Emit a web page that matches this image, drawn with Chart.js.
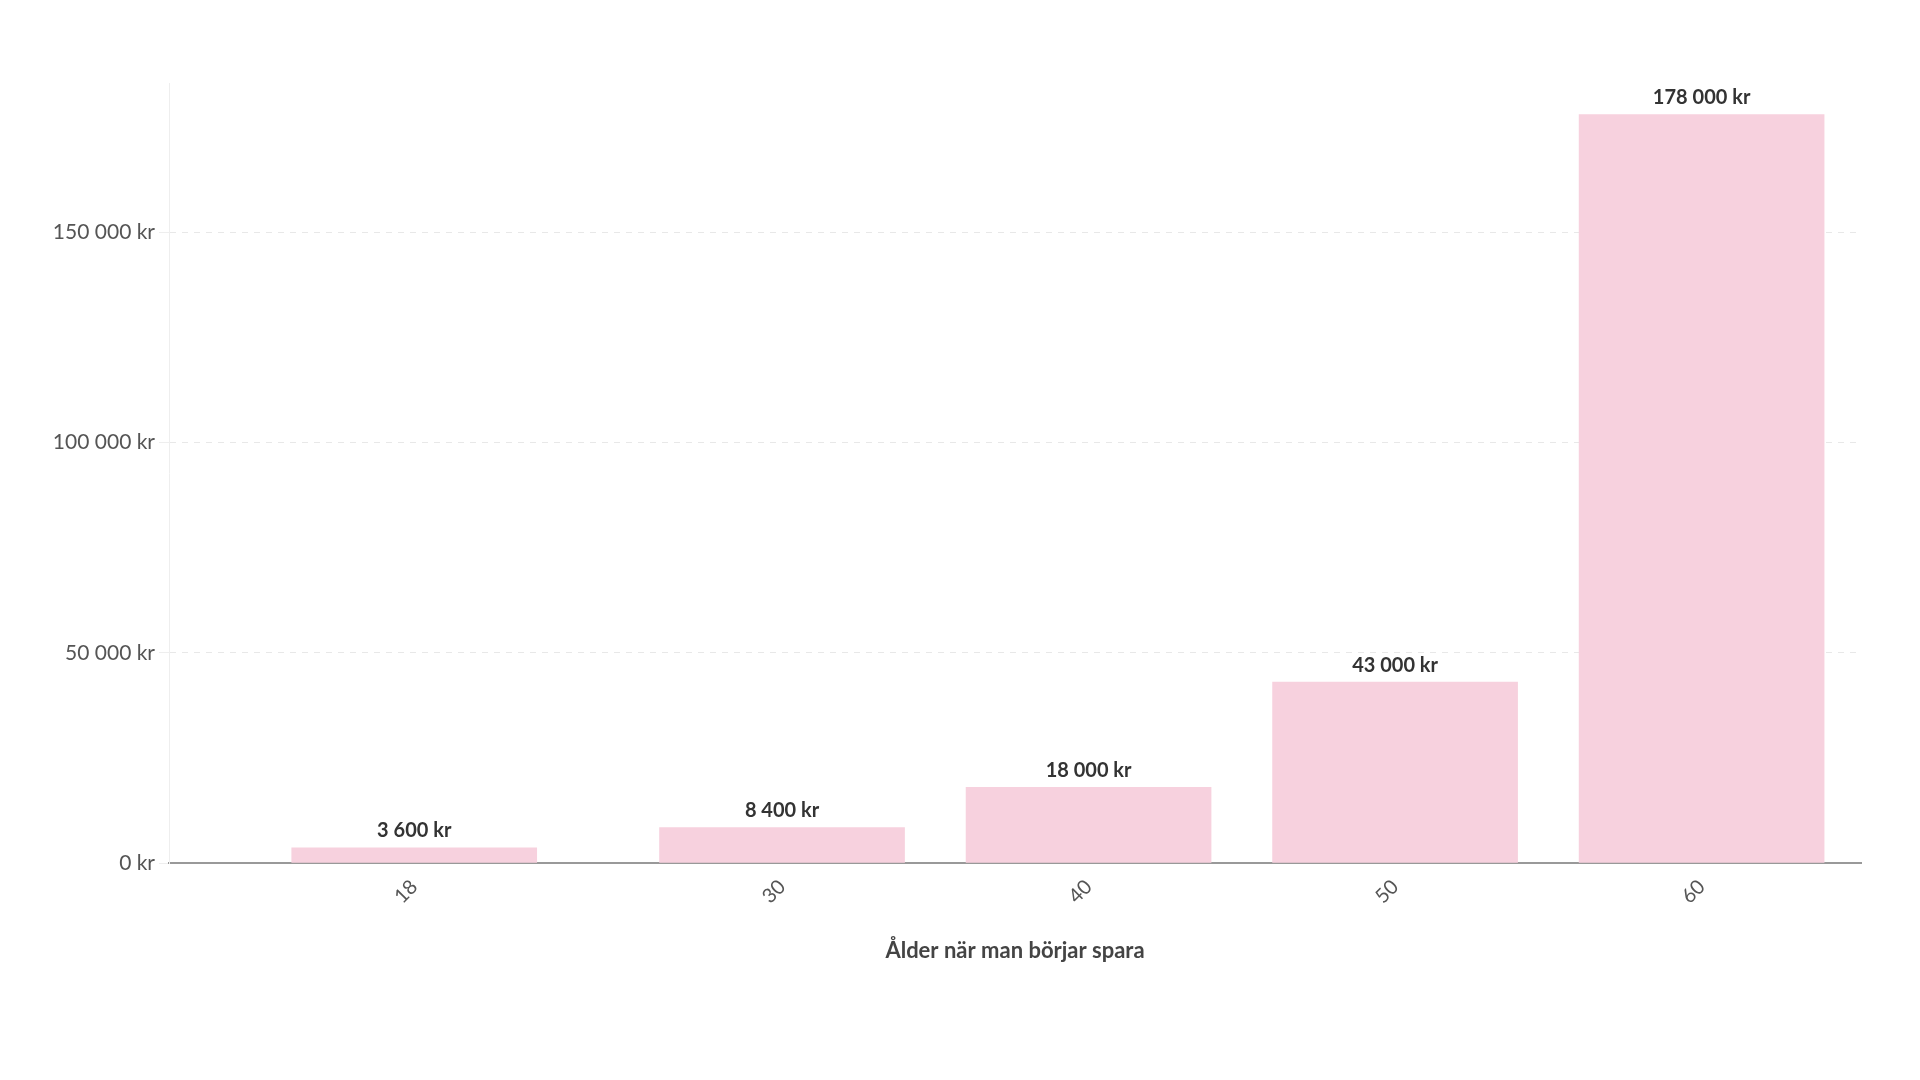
<!DOCTYPE html>
<html><head><meta charset="utf-8">
<script src="https://cdn.jsdelivr.net/npm/chart.js@4"></script>
<style>html,body{margin:0;background:#fff}#w{width:1920px;height:1080px}</style>
</head><body><div id="w"><canvas id="c"></canvas></div>
<script>
const ages = [18, 30, 40, 50, 60];
const values = [3600, 8400, 18000, 43000, 178000];
const yTicks = [0, 50000, 100000, 150000];
const xTitle = 'Ålder när man börjar spara';
const fmt = v => v.toLocaleString('sv-SE').replace(/\u00a0/g,' ') + ' kr';

const labelPlugin = {
  id: 'lbl',
  afterDatasetsDraw(chart) {
    const ctx = chart.ctx, meta = chart.getDatasetMeta(0);
    ctx.save();
    ctx.font = 'bold 20px Lato';
    ctx.fillStyle = '#333';
    ctx.textAlign = 'center';
    ctx.textBaseline = 'bottom';
    meta.data.forEach((b, i) => ctx.fillText(fmt(values[i]), b.x, b.y - 7));
    ctx.restore();
  }
};

new Chart(document.getElementById('c'), {
  type: 'bar',
  data: { datasets: [{
    data: ages.map((a, i) => ({ x: a, y: values[i] })),
    backgroundColor: '#f7d1de', barThickness: 245
  }]},
  plugins: [labelPlugin],
  options: {
    responsive: true, maintainAspectRatio: false, animation: false,
    layout: { padding: { top: 83, right: 59, bottom: 112, left: 0 } },
    plugins: { legend: { display: false }, tooltip: { enabled: false } },
    scales: {
      x: {
        type: 'linear', min: 10, max: 65.2, offset: false,
        afterBuildTicks: s => { s.ticks = ages.map(v => ({ value: v })); },
        afterFit: s => { s.height = 105; },
        grid: { display: false, offset: false, tickLength: 8 },
        border: { color: '#999', width: 2 },
        ticks: { minRotation: 45, maxRotation: 45, font: { family: 'Lato', size: 20 }, color: '#555', padding: 4 },
        title: { display: true, text: xTitle, font: { family: 'Lato', size: 22, weight: 'bold' }, color: '#444', padding: { top: 10 } }
      },
      y: {
        min: 0, max: 185500,
        afterBuildTicks: s => { s.ticks = yTicks.map(v => ({ value: v })); },
        afterFit: s => { s.width = 169; },
        grid: { color: c => c.tick.value === 0 ? 'rgba(0,0,0,0)' : '#e8e8e8', tickLength: 10, tickColor: '#eee' },
        border: { color: '#eee', width: 1, dash: [6, 6] },
        ticks: { callback: v => fmt(v), font: { family: 'Lato', size: 21 }, color: '#555', padding: 4 }
      }
    }
  }
});
</script></body></html>
